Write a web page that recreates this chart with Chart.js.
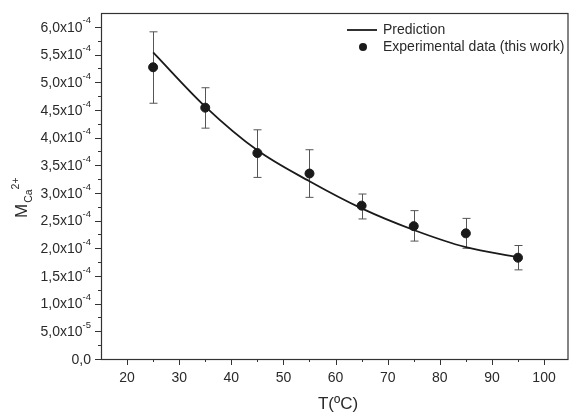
<!DOCTYPE html>
<html>
<head>
<meta charset="utf-8">
<script src="https://cdn.jsdelivr.net/npm/chart.js@4/dist/chart.umd.min.js"></script>
<style>
  html, body { margin: 0; padding: 0; background: #fff; }
  #wrap { width: 573px; height: 412px; }
</style>
</head>
<body>
<div id="wrap"><canvas id="calciumChart" width="573" height="412"></canvas></div>
<script>
// ======================================
// DATA
// ======================================
const tempC = [25, 35, 45, 55, 65, 75, 85, 95];
const measured = [5.27e-4, 4.54e-4, 3.72e-4, 3.35e-4, 2.77e-4, 2.40e-4, 2.27e-4, 1.83e-4];
const errHigh = [5.91e-4, 4.90e-4, 4.14e-4, 3.78e-4, 2.98e-4, 2.68e-4, 2.54e-4, 2.05e-4];
const errLow = [4.62e-4, 4.17e-4, 3.28e-4, 2.92e-4, 2.53e-4, 2.13e-4, 2.00e-4, 1.61e-4];
const predicted = [5.54e-4, 4.56e-4, 3.77e-4, 3.21e-4, 2.72e-4, 2.33e-4, 2.02e-4, 1.84e-4];

const xTicks = [20, 30, 40, 50, 60, 70, 80, 90, 100];
const xMinor = [25, 35, 45, 55, 65, 75, 85, 95];
const yTicks = [0, 5e-5, 1e-4, 1.5e-4, 2e-4, 2.5e-4, 3e-4, 3.5e-4, 4e-4, 4.5e-4, 5e-4, 5.5e-4, 6e-4];
const yTickBase = ["0,0", "5,0x10", "1,0x10", "1,5x10", "2,0x10", "2,5x10", "3,0x10", "3,5x10", "4,0x10", "4,5x10", "5,0x10", "5,5x10", "6,0x10"];
const yTickExp = ["", "-5", "-4", "-4", "-4", "-4", "-4", "-4", "-4", "-4", "-4", "-4", "-4"];

const FONT = '"Liberation Sans", Arial, sans-serif';
const INK = "#2a2a2a";

// ======================================
// EXTRA DRAWING (axes, error bars, legend)
// ======================================
const errorBars = {
    id: "errorBars",
    beforeDatasetsDraw(chart) {
        const { ctx, scales: { x, y } } = chart;
        ctx.save();
        ctx.strokeStyle = "#555";
        ctx.lineWidth = 1;
        tempC.forEach((t, i) => {
            const px = Math.round(x.getPixelForValue(t)) + 0.5;
            const top = y.getPixelForValue(errHigh[i]);
            const bot = y.getPixelForValue(errLow[i]);
            ctx.beginPath();
            ctx.moveTo(px, top); ctx.lineTo(px, bot);
            ctx.moveTo(px - 4, top); ctx.lineTo(px + 4, top);
            ctx.moveTo(px - 4, bot); ctx.lineTo(px + 4, bot);
            ctx.stroke();
        });
        ctx.restore();
    }
};

const frame = {
    id: "frame",
    afterDraw(chart) {
        const { ctx, chartArea: a, scales: { x, y } } = chart;
        ctx.save();
        ctx.strokeStyle = "#333";
        ctx.lineWidth = 1.2;
        ctx.strokeRect(a.left + 0.5, a.top + 0.5, a.right - a.left, a.bottom - a.top);

        ctx.lineWidth = 1;
        ctx.beginPath();
        xTicks.forEach(v => {
            const px = Math.round(x.getPixelForValue(v)) + 0.5;
            ctx.moveTo(px, a.bottom); ctx.lineTo(px, a.bottom + 6);
        });
        xMinor.forEach(v => {
            const px = Math.round(x.getPixelForValue(v)) + 0.5;
            ctx.moveTo(px, a.bottom); ctx.lineTo(px, a.bottom + 3);
        });
        yTicks.forEach((v, i) => {
            const py = Math.round(y.getPixelForValue(v)) + 0.5;
            ctx.moveTo(a.left, py); ctx.lineTo(a.left - 6, py);
            if (i < yTicks.length - 1) {
                const pm = Math.round(y.getPixelForValue(v + 2.5e-5)) + 0.5;
                ctx.moveTo(a.left, pm); ctx.lineTo(a.left - 3, pm);
            }
        });
        ctx.stroke();

        // tick labels
        ctx.fillStyle = INK;
        ctx.font = "14px " + FONT;
        ctx.textAlign = "center";
        ctx.textBaseline = "top";
        xTicks.forEach(v => ctx.fillText(String(v), x.getPixelForValue(v), a.bottom + 12));

        ctx.textBaseline = "middle";
        yTicks.forEach((v, i) => {
            const py = y.getPixelForValue(v);
            const right = a.left - 10;
            ctx.font = "9.5px " + FONT;
            const ew = ctx.measureText(yTickExp[i]).width;
            ctx.textAlign = "right";
            if (yTickExp[i]) ctx.fillText(yTickExp[i], right, py - 6);
            ctx.font = "14px " + FONT;
            ctx.fillText(yTickBase[i], right - ew, py + 1);
        });

        // axis titles
        ctx.font = "17px " + FONT;
        ctx.textAlign = "center";
        ctx.textBaseline = "middle";
        ctx.fillText("T(ºC)", 338, 404);

        ctx.translate(27, 218);
        ctx.rotate(-Math.PI / 2);
        ctx.textAlign = "left";
        ctx.textBaseline = "alphabetic";
        ctx.font = "17px " + FONT;
        ctx.fillText("M", 0, 0);
        const mw = ctx.measureText("M").width;
        ctx.font = "10.5px " + FONT;
        ctx.fillText("Ca", mw + 1, 5);
        const cw = ctx.measureText("Ca").width;
        ctx.fillText("2+", mw + cw + 1, -8);
        ctx.restore();

        // legend
        ctx.save();
        ctx.strokeStyle = "#1a1a1a";
        ctx.lineWidth = 1.8;
        ctx.beginPath();
        ctx.moveTo(347, 30); ctx.lineTo(377, 30);
        ctx.stroke();
        ctx.fillStyle = "#1a1a1a";
        ctx.beginPath();
        ctx.arc(363, 47, 4, 0, Math.PI * 2);
        ctx.fill();
        ctx.fillStyle = INK;
        ctx.font = "14px " + FONT;
        ctx.textAlign = "left";
        ctx.textBaseline = "middle";
        ctx.fillText("Prediction", 383, 30);
        ctx.fillText("Experimental data (this work)", 383, 47);
        ctx.restore();
    }
};

// ======================================
// CHART INIT
// ======================================
const ctx = document.getElementById("calciumChart");
const chart = new Chart(ctx, {
    type: "scatter",
    data: {
        datasets: [
            {
                label: "Prediction",
                type: "line",
                data: tempC.map((t, i) => ({ x: t, y: predicted[i] })),
                borderColor: "#1a1a1a",
                borderWidth: 1.8,
                cubicInterpolationMode: "monotone",
                pointRadius: 0,
                fill: false,
                order: 2
            },
            {
                label: "Experimental data (this work)",
                data: tempC.map((t, i) => ({ x: t, y: measured[i] })),
                backgroundColor: "#1a1a1a",
                borderColor: "#1a1a1a",
                pointRadius: 4.5,
                order: 1
            }
        ]
    },
    options: {
        responsive: false,
        animation: false,
        devicePixelRatio: 1,
        layout: { padding: { left: 101, right: 1, top: 13, bottom: 53 } },
        plugins: { legend: { display: false }, tooltip: { enabled: false } },
        scales: {
            x: { type: "linear", min: 15, max: 104.5, display: false },
            y: { type: "linear", min: 0, max: 6.25e-4, display: false }
        }
    },
    plugins: [errorBars, frame]
});
</script>
</body>
</html>
